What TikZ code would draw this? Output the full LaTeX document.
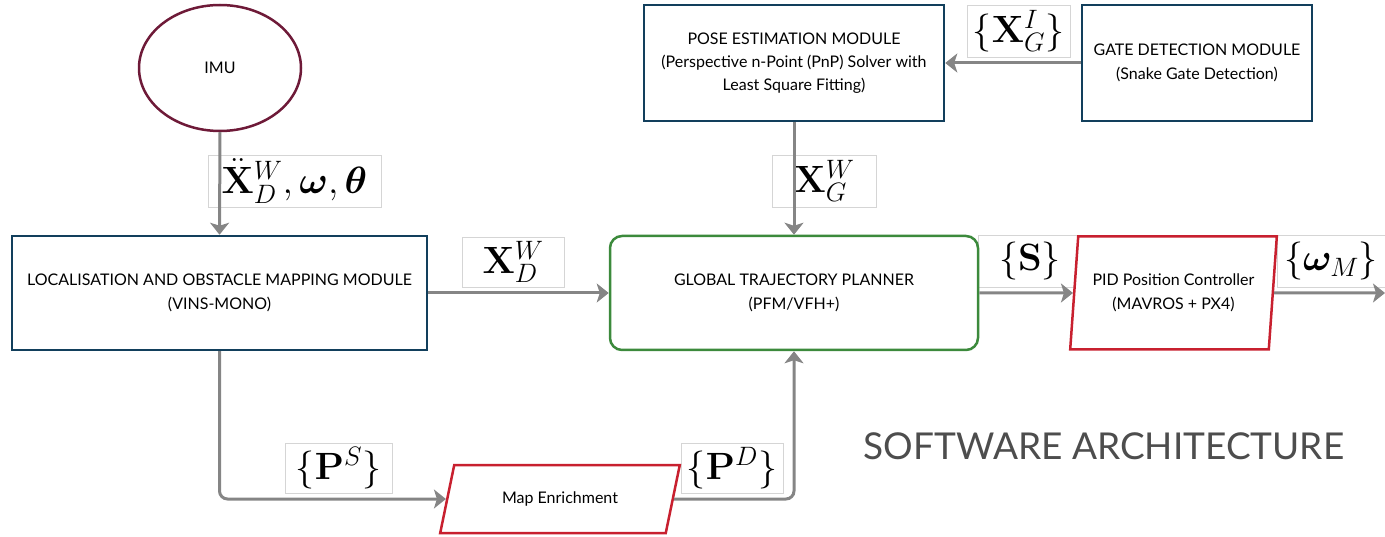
\RequirePackage{fix-cm}
\documentclass[tikz,border=0pt]{standalone}
\usepackage{amsmath,bm}
\usepackage[no-math]{fontspec}
\setmainfont{Lato}
\usetikzlibrary{shapes.geometric,arrows.meta}
\definecolor{navy}{HTML}{123F5C}
\definecolor{maroon}{HTML}{6E1A38}
\definecolor{dgreen}{HTML}{3C8A3C}
\definecolor{dred}{HTML}{C8202F}
\definecolor{arrgray}{HTML}{858585}
\definecolor{lblgray}{HTML}{D5D5D5}
\definecolor{titlegray}{HTML}{4D4D4D}
\begin{document}
\begin{tikzpicture}[x=1pt,y=-1pt,
  modbox/.style={draw=navy,line width=2.5pt,align=center,font=\fontsize{16}{24}\selectfont},
  gbox/.style={draw=dgreen,line width=2.5pt,rounded corners=12pt,align=center,font=\fontsize{16}{24}\selectfont},
  para/.style={draw=dred,fill=white,line width=2.5pt,trapezium,trapezium stretches=true,align=center,font=\fontsize{16}{24}\selectfont},
  lbl/.style={draw=lblgray,line width=0.8pt,inner sep=0pt,font=\fontsize{38}{40}\selectfont},
  arr/.style={draw=arrgray,line width=3pt,-{Stealth[length=12pt,width=19pt,inset=3pt]}}]
\useasboundingbox (0,0) rectangle (1385,537);
% labels
\node[lbl,minimum width=173,minimum height=52] (l1) at (294.5,181) {$\ddot{\mathbf{X}}_D^W,\bm{\omega},\bm{\theta}$};
\node[lbl,minimum width=102,minimum height=50] (l2) at (513,262) {$\mathbf{X}_D^W$};
\node[lbl,minimum width=104,minimum height=52] (l3) at (824,181) {$\mathbf{X}_G^W$};
\node[lbl,minimum width=103,minimum height=52] (l4) at (1018.5,31) {$\{\mathbf{X}_G^I\}$};
\node[lbl,minimum width=104,minimum height=52] (l5) at (1030,261) {$\{\mathbf{S}\}$};
\node[lbl,minimum width=108,minimum height=52] (l6) at (1331,261) {$\{\bm{\omega}_M\}$};
\node[lbl,minimum width=107,minimum height=50] (l7) at (338.5,468) {$\{\mathbf{P}^S\}$};
\node[lbl,minimum width=102,minimum height=50] (l8) at (732,468) {$\{\mathbf{P}^D\}$};
% main nodes
\node[ellipse,draw=maroon,line width=2.5pt,minimum width=162,minimum height=126,font=\fontsize{16}{24}\selectfont] (imu) at (220,68) {IMU};
\node[modbox,minimum width=415,minimum height=114] (loc) at (219.5,293) {LOCALISATION AND OBSTACLE MAPPING MODULE\\(VINS-MONO)};
\node[modbox,minimum width=300,minimum height=116,font=\fontsize{16}{23}\selectfont] (pose) at (794,63) {POSE ESTIMATION MODULE\\(Perspective n-Point (PnP) Solver with\\Least Square Fitting)};
\node[modbox,minimum width=230,minimum height=116] (gate) at (1197,63) {GATE DETECTION MODULE\\(Snake Gate Detection)};
\node[gbox,minimum width=368,minimum height=114] (glob) at (794,293) {GLOBAL TRAJECTORY PLANNER\\(PFM/VFH+)};
\node[para,trapezium left angle=81,trapezium right angle=99,minimum width=207,minimum height=113] (pid) at (1173.5,293) {PID Position Controller\\(MAVROS + PX4)};
\node[para,trapezium left angle=69,trapezium right angle=111,minimum width=240,minimum height=68] (map) at (560,499) {Map Enrichment};
\coordinate (out) at (1385,293);
\node[font=\fontsize{37}{40}\selectfont,text=titlegray] (title) at (1104,446) {SOFTWARE ARCHITECTURE};
% connectors
\draw[arr] (imu.south) -- (loc.north);
\draw[arr] (loc) -- (glob);
\draw[arr] (pose) -- (glob);
\draw[arr] (gate) -- (pose);
\draw[arr] (glob) -- (pid);
\draw[arr] (pid) -- (out);
\draw[arr,rounded corners=8pt] (loc.south) |- (map);
\draw[arr,rounded corners=8pt] (map) -| (glob.south);
\end{tikzpicture}
\end{document}
